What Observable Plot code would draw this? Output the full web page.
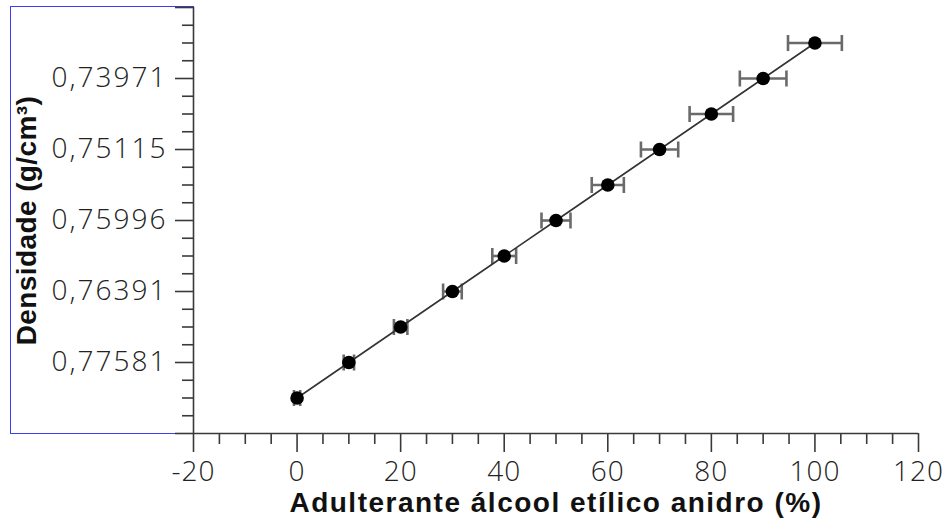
<!DOCTYPE html>
<html>
<head>
<meta charset="utf-8">
<script src="https://cdn.jsdelivr.net/npm/d3@7"></script>
<script src="https://cdn.jsdelivr.net/npm/@observablehq/plot@0.6"></script>
<style>
  html, body { margin: 0; padding: 0; background: #fff; }
  #wrap { position: relative; width: 946px; height: 523px; }
  #box { position: absolute; left: 10px; top: 6px; width: 183px; height: 426px;
         border-left: 1.5px solid #3c3cf5; border-top: 1.5px solid #3c3cf5; border-bottom: 1.5px solid #3c3cf5; }
  #wrap svg { position: absolute; left: 0; top: 0; }
  svg [aria-label="y-axis tick label"] text { letter-spacing: 2px; }
  svg [aria-label="x-axis tick label"] text { letter-spacing: 1px; }
  svg .xtitle text { letter-spacing: 1.5px; }
  svg .ytitle text { letter-spacing: 0.4px; }
</style>
</head>
<body>
<div id="wrap"><div id="box"></div></div>
<script>
// Adulterant percentage (x) and position of each measured density on the y axis
const adulterant = [0, 10, 20, 30, 40, 50, 60, 70, 80, 90, 100];
const densityLevel = [0, 1, 2, 3, 4, 5, 6, 7, 8, 9, 10];
const xError = [0.6, 1.0, 1.3, 1.8, 2.3, 2.8, 3.1, 3.6, 4.2, 4.5, 5.2];

// y-axis tick positions and labels (density, g/cm³)
const yMajorTicks = [-1, 1, 3, 5, 7, 9, 11];
const yTickLevels = [1, 3, 5, 7, 9];
const yTickLabels = ["0,77581", "0,76391", "0,75996", "0,75115", "0,73971"];
const yMinorTicks = d3.range(-1, 11.01, 0.5).filter(v => !yMajorTicks.includes(v));

// x-axis ticks
const xMajorTicks = [-20, 0, 20, 40, 60, 80, 100, 120];
const xMinorTicks = d3.range(-20, 121, 5).filter(v => !xMajorTicks.includes(v));

const xTitle = "Adulterante álcool etílico anidro (%)";
const yTitle = "Densidade (g/cm³)";

const data = adulterant.map((x, i) => ({x, y: densityLevel[i], err: xError[i]}));
const labelOf = new Map(yTickLevels.map((v, i) => [v, yTickLabels[i]]));

const vbar = {
  draw(context, size) {
    const r = Math.sqrt(size / Math.PI);
    context.moveTo(0, -r);
    context.lineTo(0, r);
  }
};

const axisColor = "#3a3a3a";
const tickFont = "'Open Sans', 'Liberation Sans', sans-serif";

const chart = Plot.plot({
  width: 946,
  height: 523,
  marginLeft: 193,
  marginRight: 28,
  marginTop: 7,
  marginBottom: 90,
  style: {background: "transparent", overflow: "visible"},
  x: {domain: [-20, 120]},
  y: {domain: [-1, 11]},
  marks: [
    // axes lines
    Plot.ruleX([-20], {stroke: axisColor, strokeWidth: 1.6}),
    Plot.ruleY([-1], {stroke: axisColor, strokeWidth: 1.6}),
    // y minor ticks
    Plot.axisY({ticks: yMinorTicks, tickSize: 11, tickFormat: () => "", label: null,
                stroke: axisColor, strokeWidth: 1.6}),
    // y major ticks + labels
    Plot.axisY({ticks: yMajorTicks, tickSize: 18, tickPadding: 8, label: null,
                tickFormat: d => labelOf.get(d) ?? "",
                stroke: axisColor, strokeWidth: 1.6,
                fontSize: 28, fontFamily: tickFont, fontWeight: 300, fill: "#222"}),
    // x minor ticks
    Plot.axisX({ticks: xMinorTicks, tickSize: 11, tickFormat: () => "", label: null,
                stroke: axisColor, strokeWidth: 1.6}),
    // x major ticks + labels
    Plot.axisX({ticks: xMajorTicks, tickSize: 19, tickPadding: 9, label: null,
                tickFormat: d => String(d),
                stroke: axisColor, strokeWidth: 1.6,
                fontSize: 28, fontFamily: tickFont, fontWeight: 300, fill: "#222"}),
    // error bars
    Plot.ruleY(data, {y: "y", x1: d => d.x - d.err, x2: d => d.x + d.err,
                      stroke: "#6a6a6a", strokeWidth: 2.6}),
    Plot.dot(data, {x: d => d.x - d.err, y: "y", r: 8, symbol: vbar,
                    stroke: "#6a6a6a", strokeWidth: 2.6}),
    Plot.dot(data, {x: d => d.x + d.err, y: "y", r: 8, symbol: vbar,
                    stroke: "#6a6a6a", strokeWidth: 2.6}),
    // fitted line
    Plot.line(data, {x: "x", y: "y", stroke: "#333", strokeWidth: 1.6}),
    // points
    Plot.dot(data, {x: "x", y: "y", r: 6.8, fill: "#000", stroke: "none"}),
    // titles
    Plot.text([xTitle], {frameAnchor: "bottom", dy: 70, lineAnchor: "middle", textAnchor: "middle",
                         fontSize: 28, fontWeight: "bold",
                         fontFamily: "'Liberation Sans', Arial, sans-serif", fill: "#111",
                         className: "xtitle"}),
    Plot.text([yTitle], {frameAnchor: "left", dx: -166, rotate: -90, lineAnchor: "middle", textAnchor: "middle",
                         fontSize: 28, fontWeight: "bold",
                         fontFamily: "'Liberation Sans', Arial, sans-serif", fill: "#111",
                         className: "ytitle"})
  ]
});

document.getElementById("wrap").appendChild(chart);
</script>
</body>
</html>
